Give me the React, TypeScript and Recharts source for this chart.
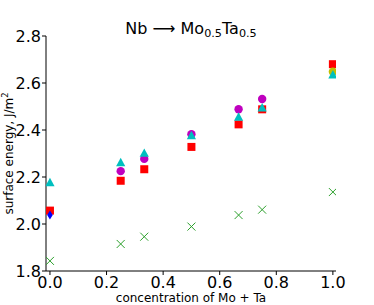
import React from "react";
import { ScatterChart, Scatter, XAxis, YAxis } from "recharts";

const xTicks = [0, 0.2, 0.4, 0.6, 0.8, 1.0];
const yTicks = [1.8, 2.0, 2.2, 2.4, 2.6, 2.8];

const compositions = [0, 0.25, 0.3333, 0.5, 0.6667, 0.75, 1.0];
const greenValues = [1.843, 1.915, 1.946, 1.989, 2.038, 2.061, 2.136];
const redValues = [2.057, 2.184, 2.233, 2.328, 2.424, 2.488, 2.68];
const cyanValues = [2.176, 2.261, 2.301, 2.376, 2.455, 2.494, 2.635];
const magentaX = [0.25, 0.3333, 0.5, 0.6667, 0.75];
const magentaValues = [2.225, 2.277, 2.382, 2.488, 2.532];
const yellowX = [1.0];
const yellowValues = [2.648];
const blueX = [0];
const blueValues = [2.038];

const zip = (xs: number[], ys: number[]) => xs.map((x, i) => ({ x, y: ys[i] }));

const greenData = zip(compositions, greenValues);
const redData = zip(compositions, redValues);
const cyanData = zip(compositions, cyanValues);
const magentaData = zip(magentaX, magentaValues);
const yellowData = zip(yellowX, yellowValues);
const blueData = zip(blueX, blueValues);

const FONT = "DejaVu Sans";

const Square = (p: any) => (
  <rect x={p.cx - 4} y={p.cy - 4} width={8} height={8} fill="#ff0000" />
);
const Tri = (p: any) => (
  <polygon
    points={`${p.cx},${p.cy - 4.8} ${p.cx - 4.6},${p.cy + 3.6} ${p.cx + 4.6},${p.cy + 3.6}`}
    fill="#00bfbf"
  />
);
const Dot = (color: string) => (p: any) => (
  <circle cx={p.cx} cy={p.cy} r={4.2} fill={color} />
);
const Diamond = (p: any) => (
  <polygon
    points={`${p.cx},${p.cy - 4.5} ${p.cx + 2.8},${p.cy} ${p.cx},${p.cy + 4.5} ${p.cx - 2.8},${p.cy}`}
    fill="#0000ff"
  />
);
const XMark = (p: any) => (
  <g stroke="#2ca02c" strokeWidth={1}>
    <line x1={p.cx - 4} y1={p.cy - 4} x2={p.cx + 4} y2={p.cy + 4} />
    <line x1={p.cx - 4} y1={p.cy + 4} x2={p.cx + 4} y2={p.cy - 4} />
  </g>
);

const tickStyle = { fontFamily: FONT, fontSize: 16, fill: "#000" };

export default function App() {
  return (
    <div style={{ position: "absolute", left: 0, top: 0, width: 374, height: 305, background: "#fff" }}>
      <ScatterChart width={374} height={305} margin={{ top: 36, right: 38, bottom: 0, left: 0 }}>
        <XAxis
          xAxisId="b"
          type="number"
          dataKey="x"
          domain={[-0.014, 1.011]}
          allowDataOverflow
          ticks={xTicks}
          tickFormatter={(v: number) => v.toFixed(1)}
          tickSize={4}
          tickMargin={2}
          height={34}
          stroke="#000"
          tick={tickStyle}
        />
        <XAxis
          xAxisId="t"
          orientation="top"
          type="number"
          dataKey="x"
          domain={[-0.014, 1.011]}
          allowDataOverflow
          tick={false}
          tickLine={false}
          height={0}
          stroke="#000"
        />
        <YAxis
          yAxisId="l"
          type="number"
          dataKey="y"
          domain={[1.8, 2.8]}
          allowDataOverflow
          ticks={yTicks}
          tickFormatter={(v: number) => v.toFixed(1)}
          tickSize={4}
          tickMargin={1}
          width={46}
          stroke="#000"
          tick={tickStyle}
        />
        <YAxis
          yAxisId="r"
          orientation="right"
          type="number"
          dataKey="y"
          domain={[1.8, 2.8]}
          allowDataOverflow
          tick={false}
          tickLine={false}
          width={0}
          stroke="#000"
        />
        <Scatter xAxisId="b" yAxisId="l" data={greenData} shape={XMark} isAnimationActive={false} />
        <Scatter xAxisId="b" yAxisId="l" data={redData} shape={Square} isAnimationActive={false} />
        <Scatter xAxisId="b" yAxisId="l" data={magentaData} shape={Dot("#bf00bf")} isAnimationActive={false} />
        <Scatter xAxisId="b" yAxisId="l" data={yellowData} shape={Dot("#bfbf00")} isAnimationActive={false} />
        <Scatter xAxisId="b" yAxisId="l" data={cyanData} shape={Tri} isAnimationActive={false} />
        <Scatter xAxisId="b" yAxisId="l" data={blueData} shape={Diamond} isAnimationActive={false} />
      </ScatterChart>
      <svg
        width={374}
        height={305}
        style={{ position: "absolute", left: 0, top: 0, pointerEvents: "none" }}
      >
        <text x={191} y={33.5} textAnchor="middle" fontFamily={FONT} fontSize={16} fill="#000">
          Nb ⟶ Mo
          <tspan dy={3.5} fontSize={11.2}>0.5</tspan>
          <tspan dy={-3.5}>Ta</tspan>
          <tspan dy={3.5} fontSize={11.2}>0.5</tspan>
        </text>
        <text x={191} y={302} textAnchor="middle" fontFamily={FONT} fontSize={12} fill="#000">
          concentration of Mo + Ta
        </text>
        <text
          x={13}
          y={153.5}
          textAnchor="middle"
          fontFamily={FONT}
          fontSize={12}
          fill="#000"
          transform="rotate(-90, 13, 153.5)"
        >
          surface energy, J/m
          <tspan dy={-5} fontSize={8.4}>2</tspan>
        </text>
      </svg>
    </div>
  );
}
